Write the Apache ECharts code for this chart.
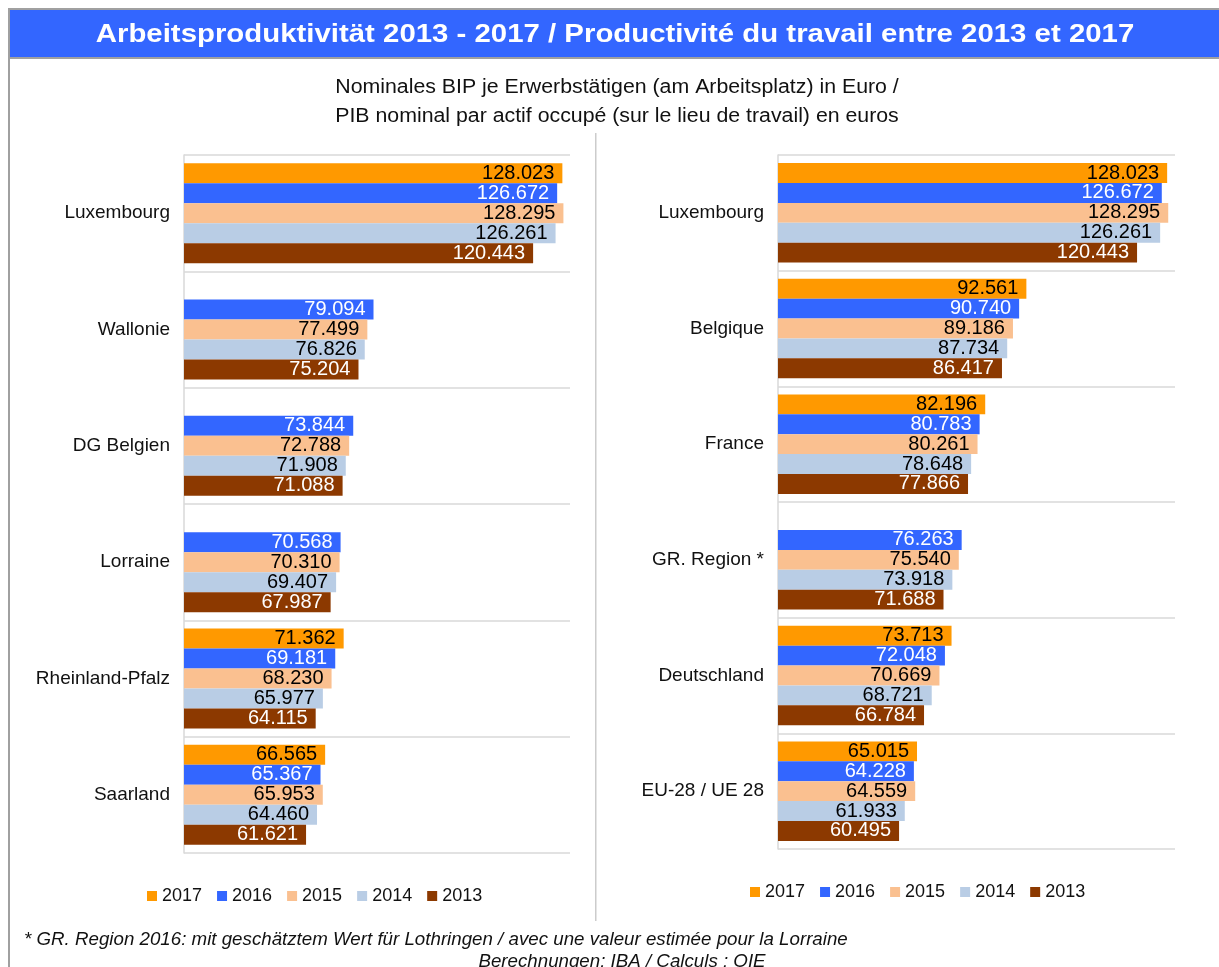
<!DOCTYPE html>
<html>
<head>
<meta charset="utf-8">
<title>Arbeitsproduktivität 2013 - 2017</title>
<script src="https://cdn.jsdelivr.net/npm/echarts@6/dist/echarts.min.js"></script>
<style>
  html, body { margin: 0; padding: 0; background: #ffffff; }
  #chart { width: 1219px; height: 967px; }
</style>
</head>
<body>
<div id="chart"></div>
<script>
// Nominal GDP per employed person (place of work), in euros
const years = ['2017', '2016', '2015', '2014', '2013'];

const regionsLeft = ['Luxembourg', 'Wallonie', 'DG Belgien', 'Lorraine', 'Rheinland-Pfalz', 'Saarland'];
const left2017 = [128023, null, null, null, 71362, 66565];
const left2016 = [126672, 79094, 73844, 70568, 69181, 65367];
const left2015 = [128295, 77499, 72788, 70310, 68230, 65953];
const left2014 = [126261, 76826, 71908, 69407, 65977, 64460];
const left2013 = [120443, 75204, 71088, 67987, 64115, 61621];

const regionsRight = ['Luxembourg', 'Belgique', 'France', 'GR. Region *', 'Deutschland', 'EU-28 / UE 28'];
const right2017 = [128023, 92561, 82196, null, 73713, 65015];
const right2016 = [126672, 90740, 80783, 76263, 72048, 64228];
const right2015 = [128295, 89186, 80261, 75540, 70669, 64559];
const right2014 = [126261, 87734, 78648, 73918, 68721, 61933];
const right2013 = [120443, 86417, 77866, 71688, 66784, 60495];

const titleText = 'Arbeitsproduktivität 2013 - 2017 / Productivité du travail entre 2013 et 2017';
const subtitleLine1 = 'Nominales BIP je Erwerbstätigen (am Arbeitsplatz) in Euro /';
const subtitleLine2 = 'PIB nominal par actif occupé (sur le lieu de travail) en euros';
const footnoteText = '* GR. Region 2016: mit geschätztem Wert für Lothringen / avec une valeur estimée pour la Lorraine';
const sourceText = 'Berechnungen: IBA / Calculs : OIE';

const yearColors = ['#FF9900', '#3366FF', '#FAC090', '#B9CDE5', '#8C3900'];
const labelColors = ['#000000', '#ffffff', '#000000', '#000000', '#ffffff'];

const FONT = '"Liberation Sans", Arial, sans-serif';

// 128023 -> "128.023"
function fmt(v) {
  return (v / 1000).toFixed(3);
}

function makeSeries(seriesData, axisIndex) {
  return seriesData.map(function (data, i) {
    return {
      name: years[i],
      type: 'bar',
      xAxisIndex: axisIndex,
      yAxisIndex: axisIndex,
      data: data,
      barGap: '0%',
      barCategoryGap: '14%',
      itemStyle: { color: yearColors[i] },
      label: {
        show: true,
        position: 'insideRight',
        distance: 8,
        color: labelColors[i],
        fontFamily: FONT,
        fontSize: 20,
        formatter: function (p) { return fmt(p.value); }
      },
      emphasis: { disabled: true },
      animation: false
    };
  });
}

function valueAxis(idx) {
  return {
    type: 'value',
    gridIndex: idx,
    min: 30000,
    max: 130000,
    show: false
  };
}

function categoryAxis(idx, cats) {
  return {
    type: 'category',
    gridIndex: idx,
    data: cats,
    inverse: true,
    axisLine: { show: true, lineStyle: { color: '#d9d9d9', width: 1.5 } },
    axisTick: { show: false },
    splitLine: { show: true, lineStyle: { color: '#d9d9d9', width: 1.5 } },
    axisLabel: {
      margin: 14,
      color: '#111111',
      fontFamily: FONT,
      fontSize: 19
    }
  };
}

function legendAt(left, top) {
  return {
    data: years,
    left: left,
    top: top,
    icon: 'rect',
    itemWidth: 10,
    itemHeight: 10,
    itemGap: 15,
    selectedMode: false,
    textStyle: { fontFamily: FONT, fontSize: 18, color: '#111111' }
  };
}

// text block in the graphic layer, optionally widened around its anchor
function textItem(x, y, text, font, fill, align, stretch) {
  return {
    type: 'text',
    silent: true,
    x: x,
    y: y,
    scaleX: stretch || 1,
    style: {
      x: 0, y: 0, text: text, fill: fill, font: font,
      textAlign: align, textVerticalAlign: 'middle'
    }
  };
}

const chart = echarts.init(document.getElementById('chart'), null, { renderer: 'canvas' });

chart.setOption({
  backgroundColor: '#ffffff',
  animation: false,
  grid: [
    { left: 184, top: 155, width: 386, height: 698 },
    { left: 778, top: 155, width: 397, height: 694 }
  ],
  xAxis: [valueAxis(0), valueAxis(1)],
  yAxis: [categoryAxis(0, regionsLeft), categoryAxis(1, regionsRight)],
  legend: [legendAt(142, 882), legendAt(745, 878)],
  series: makeSeries([left2017, left2016, left2015, left2014, left2013], 0)
    .concat(makeSeries([right2017, right2016, right2015, right2014, right2013], 1)),
  graphic: [
    // frame and heading band
    { type: 'rect', silent: true, shape: { x: 8, y: 8, width: 1220, height: 2 }, style: { fill: '#a0a0a0' } },
    { type: 'rect', silent: true, shape: { x: 8, y: 8, width: 2, height: 970 }, style: { fill: '#a0a0a0' } },
    { type: 'rect', silent: true, shape: { x: 10, y: 10, width: 1215, height: 47 }, style: { fill: '#3366FF' } },
    { type: 'rect', silent: true, shape: { x: 10, y: 57, width: 1215, height: 2 }, style: { fill: '#a0a0a0' } },
    // divider between the two panels
    { type: 'rect', silent: true, shape: { x: 595, y: 133, width: 1.5, height: 788 }, style: { fill: '#cccccc' } },
    textItem(615, 35, titleText, 'bold 26px ' + FONT, '#ffffff', 'center', 1.13),
    textItem(617, 87, subtitleLine1, '20px ' + FONT, '#111111', 'center', 1.065),
    textItem(617, 116, subtitleLine2, '20px ' + FONT, '#111111', 'center', 1.065),
    textItem(24, 940, footnoteText, 'italic 18px ' + FONT, '#111111', 'left', 1.04),
    textItem(622, 962, sourceText, 'italic 18px ' + FONT, '#111111', 'center', 1.04)
  ]
});
</script>
</body>
</html>
